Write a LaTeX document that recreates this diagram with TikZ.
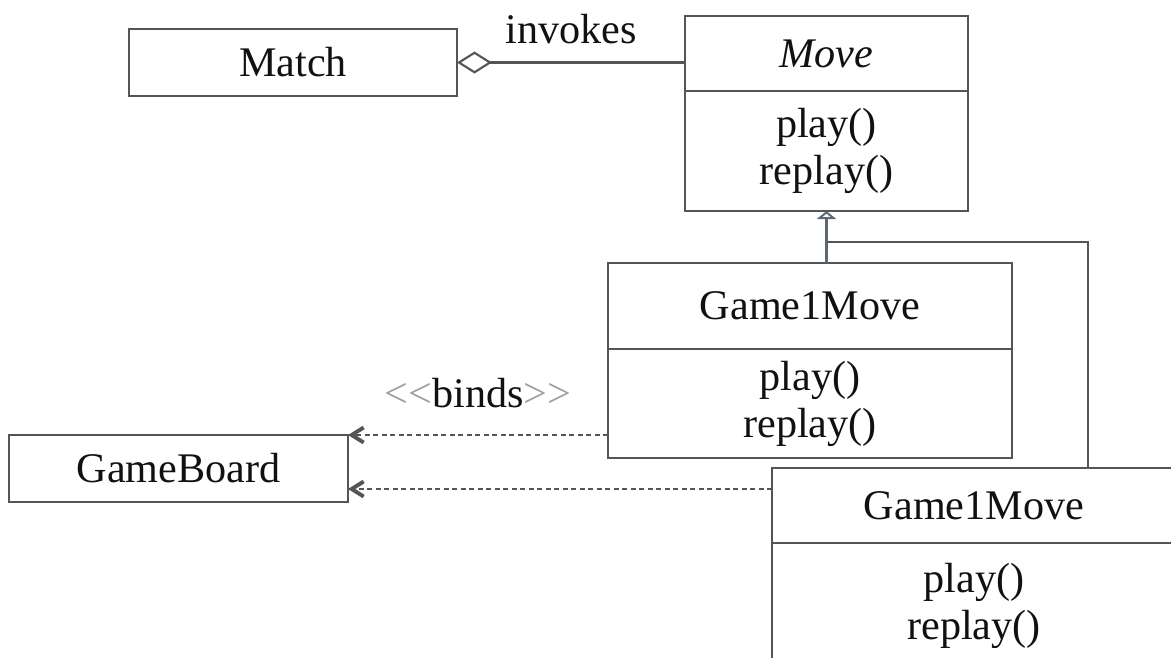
\documentclass[tikz,border=0pt]{standalone}
\usepackage{fontspec}
\setmainfont{Liberation Serif}
\usepackage{tikz}
\usetikzlibrary{arrows.meta,positioning,calc}
\definecolor{umlInk}{HTML}{111111}
\definecolor{umlLine}{HTML}{555555}
\definecolor{umlSlate}{HTML}{5E6873}
\definecolor{umlGrey}{HTML}{A0A0A0}
\tikzset{
  umlClass/.style={draw=umlLine,fill=white,text=umlInk},
  umlEdge/.style={draw=umlLine,line width=0.6pt}
}
\begin{document}
\begin{tikzpicture}[
  box/.style={umlClass, line width=0.6pt, inner sep=0pt, outer sep=0pt,
    align=center, font=\fontsize{12}{13.4}\selectfont},
  dep/.style={umlEdge, -{Straight Barb[length=0.12cm,width=0.15cm,line width=1.1pt]},
    dash pattern=on 0.05cm off 0.035cm},
  aggregate/.style={umlEdge, {Diamond[open,length=0.35cm,width=0.22cm]}-},
  inherit/.style={umlEdge, draw=umlSlate,
    -{Triangle[open,length=0.08cm,width=0.19cm]}},
  edgekey/.style={font=\fontsize{12}{13.4}\selectfont, text=umlInk, inner sep=0pt}
]
\useasboundingbox (0,0) rectangle (11.71,-6.57);
\clip (0,0) rectangle (11.71,-6.57);
\node[box,minimum width=3.28cm,minimum height=0.67cm] (match) at (2.93,-0.625)
  {Match};
\node[box,minimum width=2.83cm,minimum height=0.75cm] (movename) at (8.265,-0.535)
  {\itshape Move};
\node[box,minimum width=2.83cm,minimum height=1.20cm,below=0pt of movename] (moveops)
  {play()\\replay()};
\node[box,minimum width=4.04cm,minimum height=0.86cm] (gameone) at (8.10,-3.06)
  {Game1Move};
\node[box,minimum width=4.04cm,minimum height=1.09cm,below=0pt of gameone] (gameoneops)
  {play()\\replay()};
\node[box,minimum width=4.04cm,minimum height=0.75cm] (gametwo) at (9.74,-5.055)
  {Game1Move};
\node[box,minimum width=4.04cm,minimum height=1.25cm,below=0pt of gametwo] (gametwoops)
  {play()\\replay()};
\node[box,minimum width=3.39cm,minimum height=0.67cm] (board) at (1.785,-4.685)
  {GameBoard};
\coordinate (boardlow) at ($(board.south east)+(0,0.13)$);
\coordinate (joint) at ($(moveops.south)+(0,-0.31)$);
\draw[aggregate] (match.east) -- node[edgekey,midway,yshift=0.33cm]{invokes}
  (match.east -| movename.west);
\draw[inherit] (gameone.north -| moveops.south) -- (moveops.south);
\draw[umlEdge] ($(gametwo.north west)+(3.16,0)$) |- (joint);
\draw[dep] (gameoneops.west |- board.north east) -- node[edgekey,midway,yshift=0.42cm]
  {{\color{umlGrey}\textless\kern0pt\textless}binds{\color{umlGrey}\textgreater\kern0pt\textgreater}}
  (board.north east);
\draw[dep] (gametwo.west |- boardlow) -- (boardlow);
\end{tikzpicture}
\end{document}
